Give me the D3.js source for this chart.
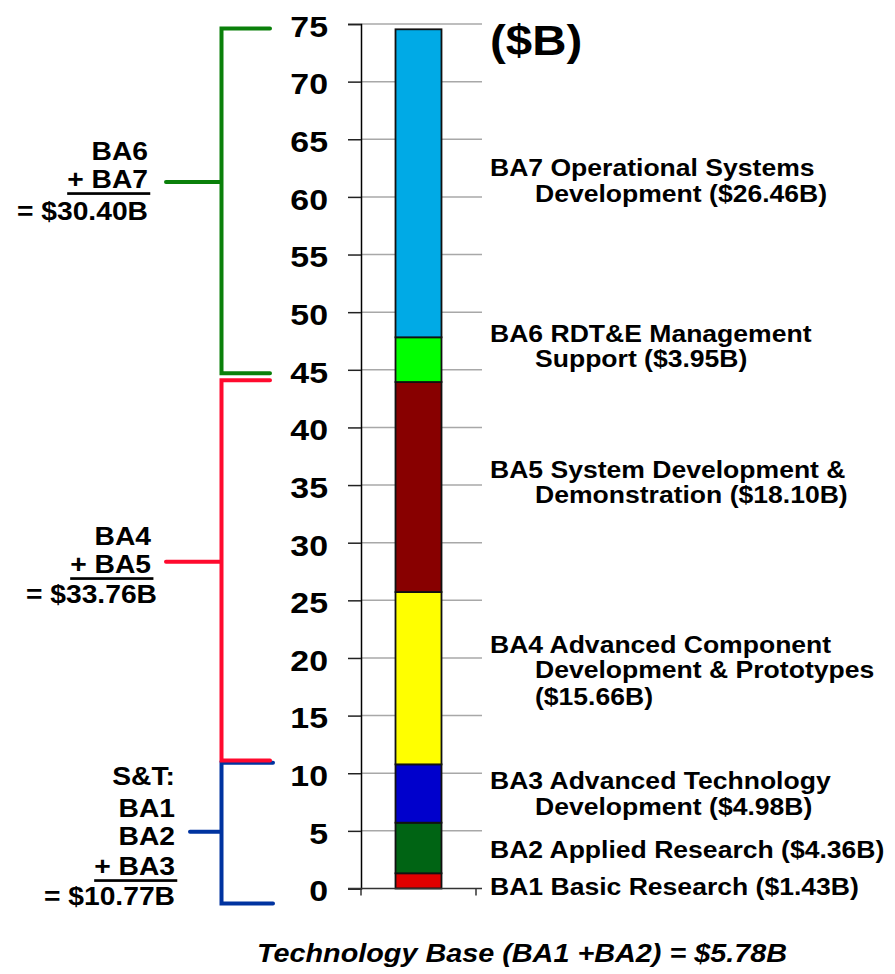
<!DOCTYPE html>
<html>
<head>
<meta charset="utf-8">
<script src="https://cdn.jsdelivr.net/npm/d3@7"></script>
<style>
  body { margin: 0; background: #fff; }
  text { font-family: "Liberation Sans", Arial, sans-serif; font-weight: bold; fill: #000; }
</style>
</head>
<body>
<svg id="chart"></svg>
<script>
// ---- data ----
const categories = ["BA1", "BA2", "BA3", "BA4", "BA5", "BA6", "BA7"];
// segment heights as drawn in the bar (the labels carry the official figures)
const values = [1.32, 4.39, 5.06, 14.95, 18.22, 3.88, 26.72];
const colors = ["#e00000", "#006414", "#0000cc", "#ffff00", "#880000", "#00ff00", "#00aae6"];
const yTicks = [0, 5, 10, 15, 20, 25, 30, 35, 40, 45, 50, 55, 60, 65, 70, 75];

const segmentLabels = [
    ["BA1 Basic Research ($1.43B)"],
    ["BA2 Applied Research ($4.36B)"],
    ["BA3 Advanced Technology", "Development ($4.98B)"],
    ["BA4 Advanced Component", "Development & Prototypes", "($15.66B)"],
    ["BA5 System Development &", "Demonstration ($18.10B)"],
    ["BA6 RDT&E Management", "Support ($3.95B)"],
    ["BA7 Operational Systems", "Development ($26.46B)"]
];

// bracket groups on the left (ranges in $B as drawn)
const groupLines = [
    ["S&T:", "BA1", "BA2", "+ BA3", "= $10.77B"],
    ["BA4", "+ BA5", "= $33.76B"],
    ["BA6", "+ BA7", "= $30.40B"]
];
const groupRanges = [[-1.3, 10.9], [11.1, 44.1], [44.7, 74.6]];
const groupMid = [4.93, 28.35, 61.3];
const groupColors = ["#0033a0", "#ff0a2e", "#0a800a"];

const unitLabel = "($B)";
const footnote = "Technology Base (BA1 +BA2) = $5.78B";

// ---- layout ----
const W = 895, H = 974;
const SX = 1.13; // source text is a bit wider than Arial
const rightLabelX = 490, rightIndent = 45;
const rightBaselines = [[895], [858], [789, 815], [653, 678, 705], [478, 503], [342, 367], [176, 202]];
const groupLayout = [
    { x: 175, base: [785, 816.7, 845, 875, 905], dx: [0, 0, 0, 0, 0], stubX: 190, endX: 273 },
    { x: 151, base: [545, 573, 603], dx: [0, 0, 6], stubX: 166, endX: 270 },
    { x: 148, base: [160, 188, 220], dx: [0, 0, 0], stubX: 166, endX: 270 }
];
const bracketX = 221.5;

const svg = d3.select("#chart").attr("width", W).attr("height", H);

const y = d3.scaleLinear().domain([0, 75]).range([888.5, 24]);
const x = d3.scaleBand().domain(["FY"]).range([361, 476]).padding(0.4286);

// gridlines
svg.append("g")
    .selectAll("line")
    .data(yTicks.filter(d => d > 0))
    .join("line")
    .attr("x1", 361).attr("x2", 482)
    .attr("y1", d => y(d)).attr("y2", d => y(d))
    .attr("stroke", "#a8a8a8").attr("stroke-width", 1.5);

// y axis
const yAxisG = svg.append("g")
    .attr("transform", "translate(361,0)")
    .call(d3.axisLeft(y).tickValues(yTicks).tickSize(13).tickFormat(""));
yAxisG.select(".domain").attr("stroke", "#000").attr("stroke-width", 1.5);
yAxisG.selectAll(".tick line").attr("stroke", "#222").attr("stroke-width", 1.5);

// y tick labels (stretched)
svg.append("g")
    .selectAll("g")
    .data(yTicks)
    .join("g")
    .attr("transform", d => `translate(328,${y(d) + 12.8}) scale(${SX},1)`)
    .append("text")
    .attr("text-anchor", "end")
    .style("font-size", "30px")
    .text(d => d);

// stacked bar
const stackRow = {};
categories.forEach((c, i) => stackRow[c] = values[i]);
const series = d3.stack().keys(categories)([stackRow]);

svg.append("g")
    .selectAll("rect")
    .data(series)
    .join("rect")
    .attr("x", x("FY"))
    .attr("width", x.bandwidth())
    .attr("y", d => y(d[0][1]))
    .attr("height", d => y(d[0][0]) - y(d[0][1]))
    .attr("fill", (d, i) => colors[i])
    .attr("stroke", "#111")
    .attr("stroke-width", 1.8);

// x axis line with ticks at the plot edges
svg.append("line")
    .attr("x1", 348).attr("x2", 482)
    .attr("y1", y(0)).attr("y2", y(0))
    .attr("stroke", "#333").attr("stroke-width", 1.5);
svg.append("g")
    .selectAll("line")
    .data(x.range())
    .join("line")
    .attr("x1", d => d).attr("x2", d => d)
    .attr("y1", y(0)).attr("y2", y(0) + 7)
    .attr("stroke", "#333").attr("stroke-width", 1.5);

// unit label
svg.append("g")
    .attr("transform", `translate(${rightLabelX},55) scale(${SX},1)`)
    .append("text")
    .style("font-size", "42px")
    .text(unitLabel);

// segment labels on the right
segmentLabels.forEach((lines, i) => {
    lines.forEach((line, j) => {
        svg.append("g")
            .attr("transform", `translate(${rightLabelX + (j > 0 ? rightIndent : 0)},${rightBaselines[i][j]}) scale(${SX},1)`)
            .append("text")
            .style("font-size", "23.5px")
            .text(line);
    });
});

// brackets + group labels
groupLines.forEach((lines, i) => {
    const L = groupLayout[i];
    const top = y(groupRanges[i][1]), bot = y(groupRanges[i][0]), mid = y(groupMid[i]);
    const path = d3.path();
    path.moveTo(L.endX, top);
    path.lineTo(bracketX, top);
    path.lineTo(bracketX, bot);
    path.lineTo(L.endX, bot);
    path.moveTo(L.stubX, mid);
    path.lineTo(bracketX, mid);
    svg.append("path")
        .attr("d", path.toString())
        .attr("fill", "none")
        .attr("stroke", groupColors[i])
        .attr("stroke-width", 4)
        .attr("stroke-linecap", "round")
        .attr("stroke-linejoin", "miter");

    lines.forEach((line, j) => {
        const g = svg.append("g")
            .attr("transform", `translate(${L.x + L.dx[j]},${L.base[j]}) scale(${SX},1)`);
        const t = g.append("text")
            .attr("text-anchor", "end")
            .style("font-size", "25px")
            .text(line);
        if (line.startsWith("+")) {
            const bb = t.node().getBBox();
            g.append("rect")
                .attr("x", bb.x)
                .attr("y", 4.2)
                .attr("width", bb.width + 2)
                .attr("height", 2.7)
                .attr("fill", "#000");
        }
    });
});

// footnote
svg.append("g")
    .attr("transform", `translate(522,962) scale(${SX},1)`)
    .append("text")
    .attr("text-anchor", "middle")
    .style("font-size", "25.5px")
    .style("font-style", "italic")
    .text(footnote);
</script>
</body>
</html>
